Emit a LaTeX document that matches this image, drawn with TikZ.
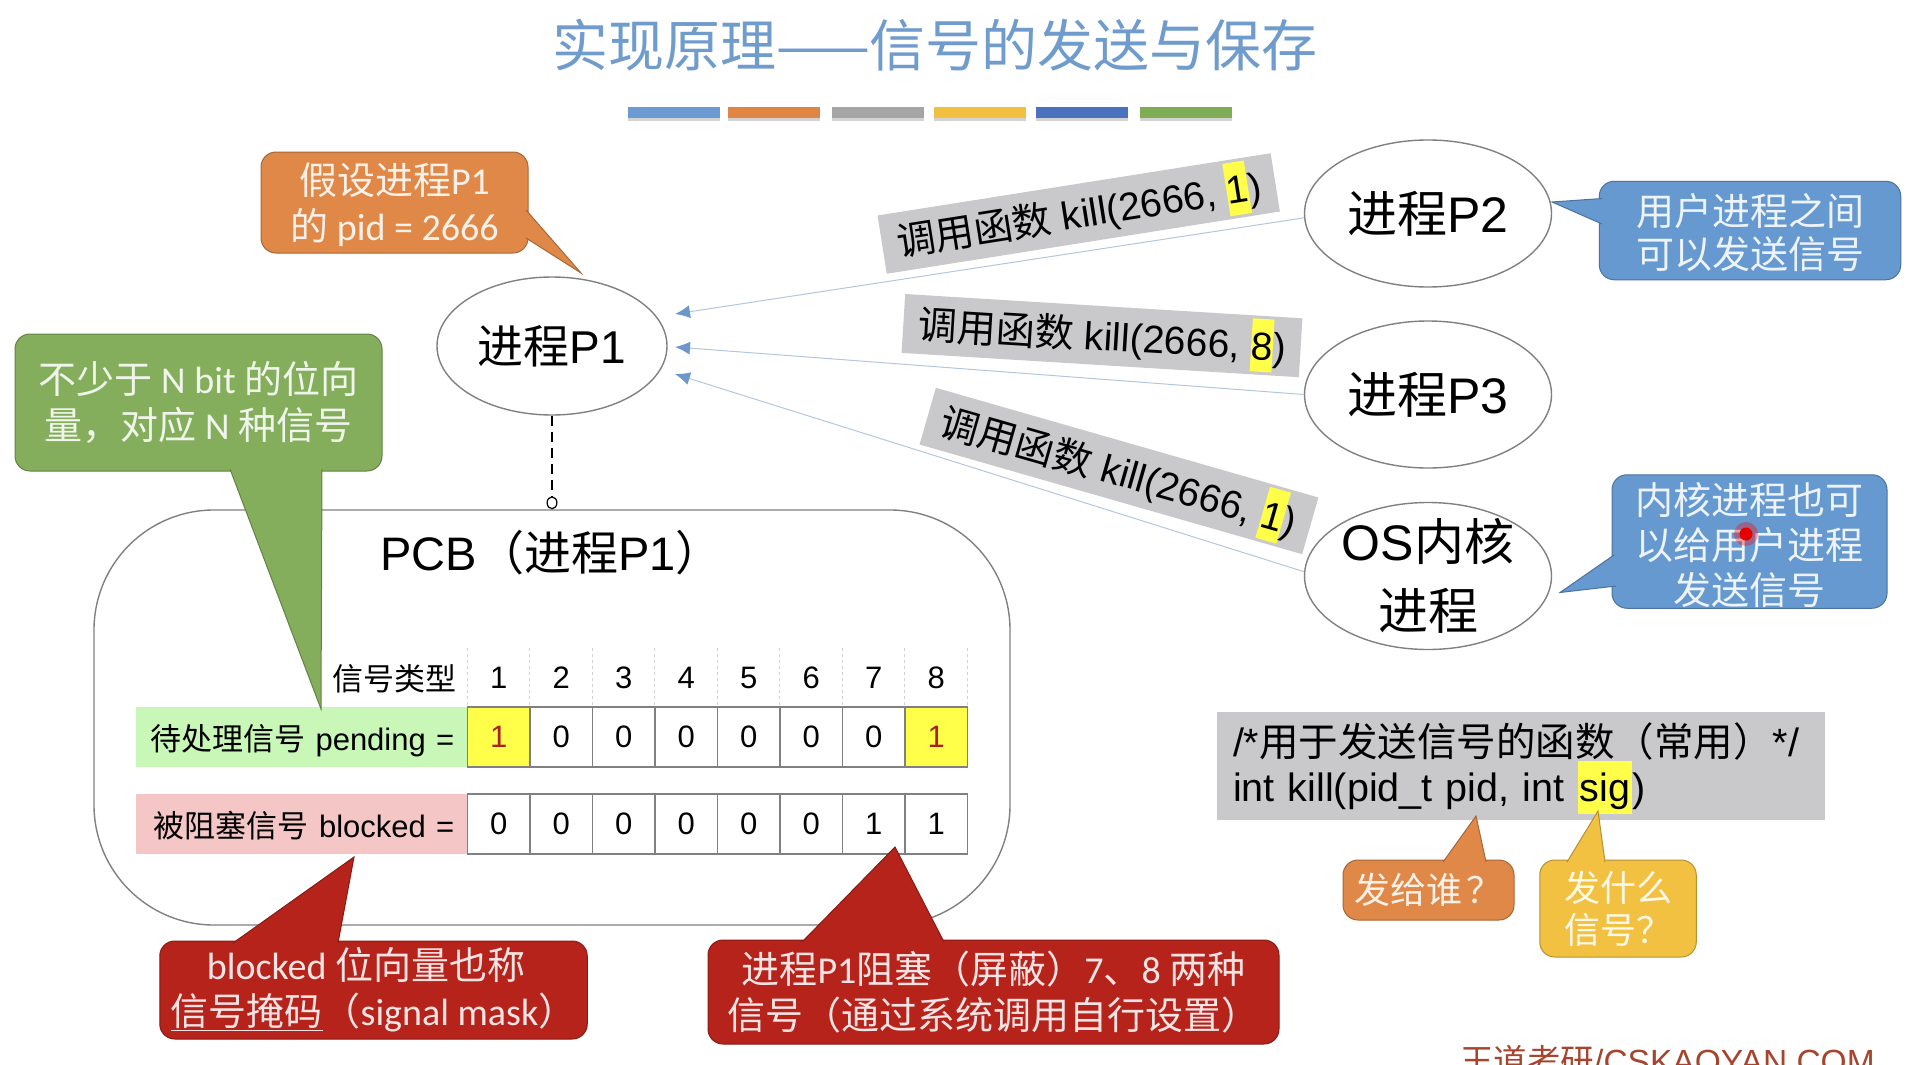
\documentclass[tikz,border=0pt]{standalone}
\usepackage{fontspec}
\setmainfont{Liberation Sans}
\setsansfont{Carlito}
\newfontfamily\cjk{Noto Sans CJK SC}
\usetikzlibrary{shapes.geometric,arrows.meta,shadows}

\definecolor{titleblue}{HTML}{6F9CCD}
\definecolor{barblue}{HTML}{6C9BD2}
\definecolor{barorange}{HTML}{E08543}
\definecolor{bargray}{HTML}{A5A5A5}
\definecolor{baryellow}{HTML}{F2C040}
\definecolor{bardeep}{HTML}{4A72BE}
\definecolor{bargreen}{HTML}{7FAD55}
\definecolor{noteorange}{HTML}{E08848}
\definecolor{notegreen}{HTML}{84AE5C}
\definecolor{noteblue}{HTML}{6699D0}
\definecolor{notered}{HTML}{B5231B}
\definecolor{noteyellow}{HTML}{F2C142}
\definecolor{labelgray}{HTML}{C9C8CA}
\definecolor{hlyellow}{HTML}{FFFF4A}
\definecolor{pendgreen}{HTML}{C8F7B8}
\definecolor{blockpink}{HTML}{F5C6C6}
\definecolor{edgegray}{HTML}{808080}
\definecolor{linkblue}{HTML}{B4C6DE}
\definecolor{tipblue}{HTML}{6C96CC}
\definecolor{hotred}{HTML}{A8201C}
\definecolor{sitered}{HTML}{A5452E}

\newcommand{\sigmark}[2][0pt]{\setlength{\fboxsep}{0pt}\colorbox{hlyellow}{\rule[-12pt]{0pt}{53pt}\kern#1#2\kern#1}}

\tikzset{
  process/.style={draw=edgegray,line width=1.4pt,ellipse,inner sep=0pt,minimum width=247pt,minimum height=147pt,font=\fontsize{50}{69}\selectfont,align=center},
  note/.style={draw=#1!75!black,fill=#1,line width=1pt,rounded corners=15pt,inner sep=0pt,align=center,text=white!88!#1,font=\sffamily\fontsize{38}{46}\selectfont},
  notetail/.style={draw=#1!75!black,fill=#1,line width=1pt},
  callinglabel/.style={fill=labelgray,inner sep=0pt,minimum width=398pt,minimum height=59pt,font=\fontsize{39}{46}\selectfont},
  sendline/.style={draw=linkblue,line width=1pt,-{Latex[length=15pt,width=13pt,color=tipblue]}},
  cellbox/.style={draw=edgegray,line width=1.2pt,inner sep=0pt,minimum width=62.5pt,minimum height=60pt,font=\fontsize{31}{37}\selectfont},
  hotcell/.style={cellbox,fill=hlyellow,text=hotred},
  headcell/.style={inner sep=0pt,minimum width=62.5pt,minimum height=59pt,font=\fontsize{31}{37}\selectfont},
  headsep/.style={draw=black!18,line width=1pt,dashed},
  rowlabel/.style={fill=#1,inner xsep=13pt,inner ysep=0pt,minimum height=60pt,text width=305pt,text height=30pt,text depth=4pt,align=right,font=\fontsize{31}{37}\selectfont},
  barmark/.style={fill=#1,inner sep=0pt,minimum width=92pt,minimum height=11pt,drop shadow={shadow xshift=0pt,shadow yshift=-3pt,opacity=.35}},
}

\begin{document}
\begin{tikzpicture}[x=1pt,y=-1pt]
  \useasboundingbox (0,0) rectangle (1924,1065);

  \node[text=titleblue,inner sep=0pt,font=\cjk\fontsize{56}{60}\selectfont] (title) at (935,45) {实现原理——信号的发送与保存};

  \foreach \x/\c [count=\i] in {674/barblue,774/barorange,878/bargray,980/baryellow,1082/bardeep,1186/bargreen}
    \node[barmark=\c] (bar\i) at (\x,112.5) {};

  % the PCB and its two rows
  \node[draw=edgegray,line width=1.4pt,rounded corners=120pt,inner sep=0pt,minimum width=916pt,minimum height=415pt] (pcb) at (552,717.5) {};
  \node[inner sep=0pt,font=\fontsize{47}{50}\selectfont] (pcbname) at (551.5,553) {PCB{\cjk（进程}P1{\cjk）}};

  \node[inner sep=0pt,anchor=east,font=\cjk\fontsize{31}{37}\selectfont] (headname) at (457,679) {信号类型};
  \foreach \v [count=\i] in {1,2,3,4,5,6,7,8}
    \node[headcell] (head\i) at ({436.25+62.5*\i},678) {\v};
  \foreach \i in {1,...,8}
    \draw[headsep] (head\i.north west) -- (head\i.south west);
  \draw[headsep] (head8.north east) -- (head8.south east);

  \node[rowlabel=pendgreen,anchor=east] (pendname) at (467.5,737) {{\cjk 待处理信号} pending =};
  \node[rowlabel=blockpink,anchor=east] (blockname) at (467.5,824) {{\cjk 被阻塞信号} blocked =};
  \foreach \v/\s [count=\i] in {1/hotcell,0/cellbox,0/cellbox,0/cellbox,0/cellbox,0/cellbox,0/cellbox,1/hotcell}
    \node[\s] (pend\i) at ({436.25+62.5*\i},737) {\v};
  \foreach \v [count=\i] in {0,0,0,0,0,0,1,1}
    \node[cellbox] (block\i) at ({436.25+62.5*\i},824) {\v};

  % processes
  \node[process,minimum width=230pt,minimum height=138pt,font=\fontsize{46}{60}\selectfont] (p1) at (552,346) {{\cjk 进程}P1};
  \node[process] (p2) at (1428,213.5) {{\cjk 进程}P2};
  \node[process] (p3) at (1428,394.5) {{\cjk 进程}P3};
  \node[process,inner ysep=-14pt,inner xsep=-14pt] (os) at (1428,576) {OS{\cjk 内核}\\{\cjk 进程}};

  \draw[dashed,dash pattern=on 10pt off 6pt,line width=1.2pt,-{Circle[open,fill=white,length=13pt,width=11pt,line width=1.2pt]}] (p1.south) -- (pcb.north);

  \coordinate (in2) at (675,314);
  \coordinate (in3) at (675,347);
  \coordinate (inos) at (675,374);
  \draw[sendline] (p2.182.5) -- (in2);
  \draw[sendline] (p3.west) -- (in3);
  \draw[sendline] (os.178) -- (inos);

  \node[callinglabel,rotate=9] (call2) at (1078.7,213.5) {{\cjk 调用函数} kill(2666, \sigmark{1})};
  \node[callinglabel,rotate=-3.5] (call3) at (1102,335.6) {{\cjk 调用函数} kill(2666, \sigmark{8})};
  \node[callinglabel,rotate=-16] (callos) at (1119,471) {{\cjk 调用函数} kill(2666, \sigmark{1})};

  % notes: box first, then the tail over it
  \node[note=noteorange,minimum width=267pt,minimum height=101pt] (pidnote) at (394.5,202.5) {\rule{0pt}{37pt}{\cjk 假设进程}P1\\{\cjk 的} pid = 2666};
  \filldraw[notetail=noteorange] (526,210) -- (581,273) -- (526,238);

  \node[note=notegreen,minimum width=367pt,minimum height=137pt] (bitnote) at (198.5,402.5) {{\cjk 不少于} N bit {\cjk 的位向}\\{\cjk 量，对应} N {\cjk 种信号}};
  \filldraw[notetail=notegreen] (230,469) -- (321,709) -- (322,469);

  \node[note=noteblue,minimum width=301.5pt,minimum height=98.5pt,font=\cjk\fontsize{38}{43}\selectfont] (usernote) at (1750,230.5) {\rule{0pt}{37pt}用户进程之间\\可以发送信号};
  \filldraw[notetail=noteblue] (1602,198.5) -- (1552,202) -- (1602,224);

  \node[note=noteblue,minimum width=275pt,minimum height=133.5pt,font=\cjk\fontsize{38}{45}\selectfont] (osnote) at (1749.5,541.5) {\rule{0pt}{39pt}内核进程也可\\以给用户进程\\发送信号};
  \filldraw[notetail=noteblue] (1614,555) -- (1560,592.5) -- (1616,586);
  \node[circle,fill=red,opacity=.35,inner sep=0pt,minimum size=24pt] (laserglow) at (1746,534) {};
  \node[circle,fill=red!90!black,inner sep=0pt,minimum size=13pt] (laser) at (1746,534) {};

  \node[note=notered,minimum width=427.5pt,minimum height=98pt] (masknote) at (373.5,990) {blocked {\cjk 位向量也称}\kern15pt\\\underline{\cjk 信号掩码}{\cjk （}signal mask{\cjk ）}};
  \filldraw[notetail=notered] (233,943) -- (354,857) -- (338,943);

  \node[note=notered,minimum width=571pt,minimum height=104pt] (blocknote) at (993.5,992) {{\cjk 进程}P1{\cjk 阻塞（屏蔽）}7{\cjk 、}8 {\cjk 两种}\\{\cjk 信号（通过系统调用自行设置）}};
  \filldraw[notetail=notered] (802,942) -- (895,847) -- (944,942);

  % the function
  \node[fill=labelgray,inner xsep=16pt,inner ysep=0pt,minimum height=108pt,text width=576pt,align=left,font=\fontsize{39.5}{45.5}\selectfont] (killcode) at (1521,766) {/*{\cjk 用于发送信号的函数（常用）}*/\\int kill(pid\_t pid, int \smash{\sigmark[2pt]{sig}})};

  \node[note=noteorange,minimum width=171pt,minimum height=60pt,font=\cjk\fontsize{36}{42}\selectfont] (whonote) at (1428.5,890) {发给谁\hspace{4pt}？};
  \filldraw[notetail=noteorange] (1443,862) -- (1476,816) -- (1486,862);

  \node[note=noteyellow,minimum width=156.5pt,minimum height=97pt,font=\cjk\fontsize{36}{42}\selectfont] (whatnote) at (1618,908.5) {发什么\\信号？};
  \filldraw[notetail=noteyellow] (1567,862) -- (1598,811) -- (1605,862);

  \node[anchor=base west,inner sep=0pt,text=sitered,font=\fontsize{33.5}{40}\selectfont] (site) at (1460,1073) {{\cjk 王道考研}/CSKAOYAN.COM};
\end{tikzpicture}
\end{document}
